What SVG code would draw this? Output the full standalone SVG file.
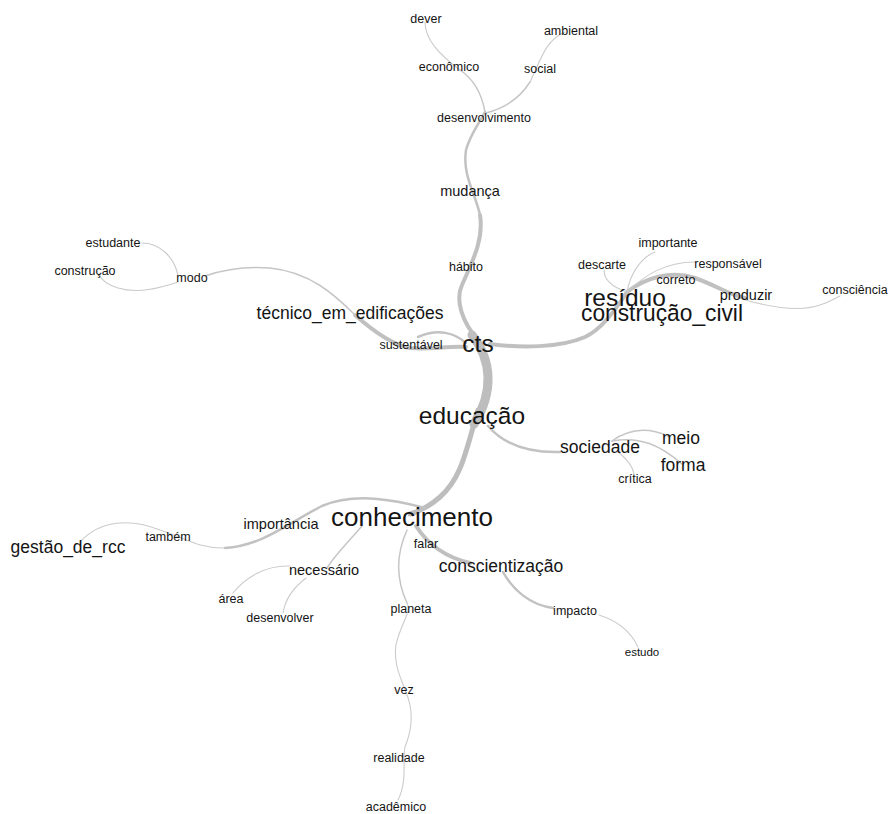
<svg xmlns="http://www.w3.org/2000/svg" width="893" height="814" viewBox="0 0 893 814">
<style>
text{font-family:"Liberation Sans",Arial,sans-serif;fill:#141414;text-anchor:middle}
.s{font-size:12.5px}.m{font-size:14.5px}.l{font-size:17.5px}.xl{font-size:24.5px}
path{fill:none;stroke-linecap:round}
.e0{stroke:#bdbdbd;stroke-width:9}
.e1{stroke:#bdbdbd;stroke-width:5}
.e2{stroke:#c0c0c0;stroke-width:4}
.e3{stroke:#c2c2c2;stroke-width:2.5}
.e4{stroke:#c6c6c6;stroke-width:1.5}
.e5{stroke:#cbcbcb;stroke-width:1.1}
</style>
<rect width="893" height="814" fill="#ffffff"/>
<g id="connectors">
<path class="e0" d="M472 335 C492 360,494 392,474 424"/>
<path class="e1" d="M478 410 C466 450,462 478,440 497 C430 506,420 511,410 514"/>
<path class="e2" d="M478 340 C462 322,455 300,462 285 C472 262,484 240,480 215"/>
<path class="e3" d="M480 215 C476 195,462 175,466 150 C470 135,478 125,485 112"/>
<path class="e4" d="M485 112 C482 95,475 80,460 70"/>
<path class="e5" d="M460 70 C440 55,425 40,425 22"/>
<path class="e4" d="M486 113 C505 108,520 98,530 82"/>
<path class="e5" d="M530 82 C540 62,545 40,565 32"/>
<path class="e2" d="M490 344 C520 348,560 348,585 337 C600 330,612 315,627 292"/>
<path class="e2" d="M627 292 C645 278,670 270,695 278 C715 285,730 295,745 298"/>
<path class="e5" d="M745 300 C770 307,800 312,820 305 C830 302,835 298,840 296"/>
<path class="e5" d="M627 292 C612 287,604 280,604 270"/>
<path class="e5" d="M627 292 C630 275,640 258,655 252"/>
<path class="e5" d="M627 292 C645 275,665 262,695 262"/>
<path class="e2" d="M466 347 C445 346,430 350,410 348 C392 345,372 330,355 315"/>
<path class="e4" d="M355 315 C335 295,310 272,270 268 C245 266,222 270,205 276"/>
<path class="e3" d="M466 343 C455 333,438 328,418 337"/>
<path class="e5" d="M178 276 C175 258,160 243,142 243"/>
<path class="e5" d="M178 282 C160 288,138 294,118 288 C108 285,102 280,100 276"/>
<path class="e3" d="M488 426 C500 440,520 453,560 452"/>
<path class="e4" d="M612 441 C630 428,650 428,668 436"/>
<path class="e4" d="M612 441 C640 436,660 445,682 464"/>
<path class="e5" d="M618 452 C628 460,634 468,634 476"/>
<path class="e3" d="M425 508 C395 500,355 492,322 506 C290 522,262 546,225 548"/>
<path class="e5" d="M225 548 C200 549,185 538,160 530 C130 518,100 520,80 542"/>
<path class="e4" d="M362 526 C350 540,335 555,327 568"/>
<path class="e5" d="M290 566 C265 565,245 578,233 593"/>
<path class="e5" d="M306 578 C293 588,285 600,283 613"/>
<path class="e4" d="M407 530 C398 550,394 575,407 603"/>
<path class="e5" d="M407 603 C412 612,400 625,396 645 C393 665,402 680,405 690 C412 705,414 725,405 747 C402 760,408 780,398 800"/>
<path class="e2" d="M416 526 C425 540,440 556,470 563"/>
<path class="e3" d="M503 572 C513 590,530 605,553 608"/>
<path class="e5" d="M599 615 C615 620,630 630,638 647"/>
</g>
<g id="n-dever"><text class="s" x="426" y="23">dever</text></g>
<g id="n-ambiental"><text class="s" x="571" y="35">ambiental</text></g>
<g id="n-economico"><text class="s" x="449" y="71">econômico</text></g>
<g id="n-social"><text class="s" x="540" y="73">social</text></g>
<g id="n-desenvolvimento"><text class="s" x="484" y="122">desenvolvimento</text></g>
<g id="n-mudanca"><text class="m" x="470" y="196">mudança</text></g>
<g id="n-habito"><text class="s" x="466" y="271">hábito</text></g>
<g id="n-estudante"><text class="s" x="113" y="247">estudante</text></g>
<g id="n-construcao"><text class="s" x="85" y="275">construção</text></g>
<g id="n-modo"><text class="s" x="192" y="282">modo</text></g>
<g id="n-tecnico"><text class="l" x="350" y="319">técnico_em_edificações</text></g>
<g id="n-sustentavel"><text class="s" x="411" y="349">sustentável</text></g>
<g id="n-cts"><text class="xl" x="478" y="352">cts</text></g>
<g id="n-importante"><text class="s" x="668" y="247">importante</text></g>
<g id="n-descarte"><text class="s" x="602" y="269">descarte</text></g>
<g id="n-responsavel"><text class="s" x="728" y="268">responsável</text></g>
<g id="n-correto"><text class="s" x="676" y="284">correto</text></g>
<g id="n-produzir"><text class="m" x="746" y="300">produzir</text></g>
<g id="n-consciencia"><text class="s" x="855" y="294">consciência</text></g>
<g id="n-residuo"><text class="xl" x="625" y="306">resíduo</text></g>
<g id="n-construcao-civil"><text class="xl" x="662" y="321" textLength="162" lengthAdjust="spacingAndGlyphs">construção_civil</text></g>
<g id="n-educacao"><text class="xl" x="472" y="424">educação</text></g>
<g id="n-sociedade"><text class="l" x="600" y="453">sociedade</text></g>
<g id="n-meio"><text class="l" x="681" y="444">meio</text></g>
<g id="n-forma"><text class="l" x="683" y="471">forma</text></g>
<g id="n-critica"><text class="s" x="635" y="483">crítica</text></g>
<g id="n-conhecimento"><text class="xl" x="412" y="526" style="font-size:26px">conhecimento</text></g>
<g id="n-importancia"><text class="m" x="281" y="529">importância</text></g>
<g id="n-tambem"><text class="s" x="168" y="541">também</text></g>
<g id="n-gestao"><text class="l" x="68" y="553">gestão_de_rcc</text></g>
<g id="n-falar"><text class="s" x="426" y="548">falar</text></g>
<g id="n-conscientizacao"><text class="l" x="501" y="572">conscientização</text></g>
<g id="n-necessario"><text class="m" x="324" y="575">necessário</text></g>
<g id="n-area"><text class="s" x="231" y="603">área</text></g>
<g id="n-desenvolver"><text class="s" x="280" y="622">desenvolver</text></g>
<g id="n-planeta"><text class="s" x="411" y="613">planeta</text></g>
<g id="n-impacto"><text class="s" x="575" y="615">impacto</text></g>
<g id="n-estudo"><text class="s" x="642" y="656" style="font-size:11.5px">estudo</text></g>
<g id="n-vez"><text class="s" x="404" y="694">vez</text></g>
<g id="n-realidade"><text class="s" x="399" y="762">realidade</text></g>
<g id="n-academico"><text class="s" x="396" y="811">acadêmico</text></g>
</svg>
